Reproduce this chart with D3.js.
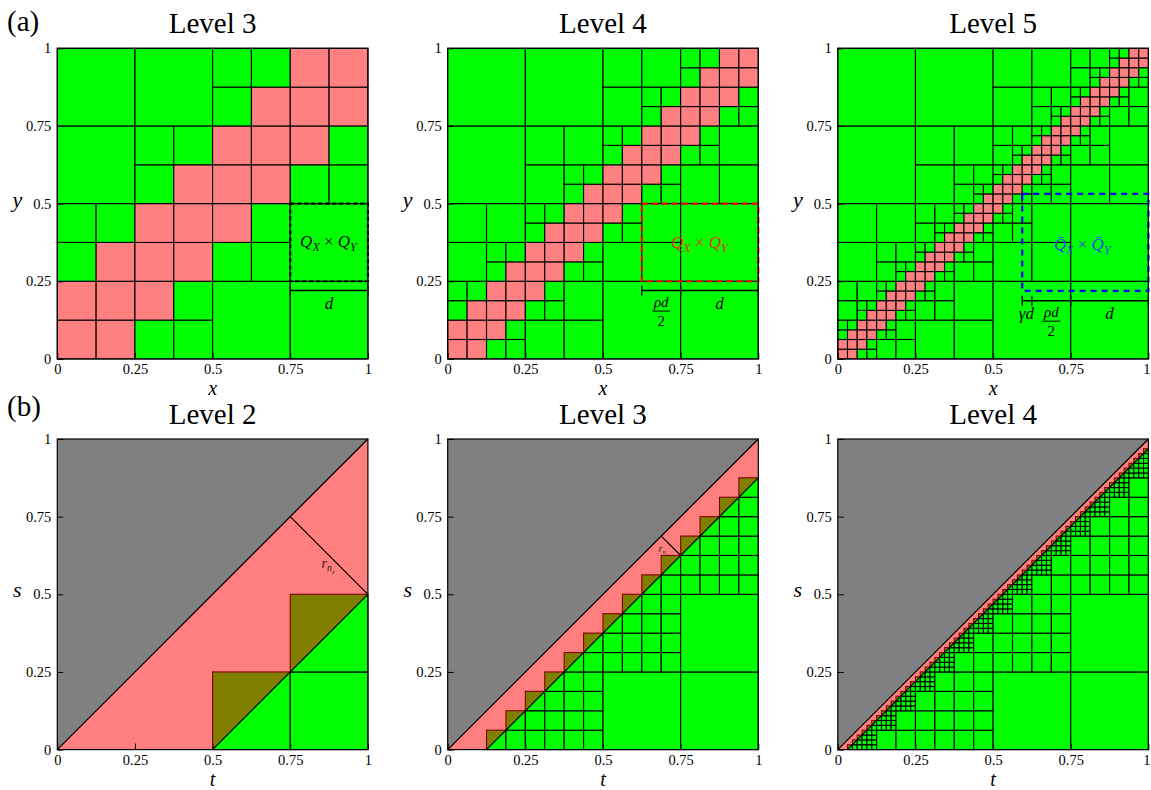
<!DOCTYPE html>
<html>
<head>
<meta charset="utf-8">
<script src="https://cdn.jsdelivr.net/npm/d3@7"></script>
<style>
body { margin: 0; background: #fff; }
svg text { font-family: "Liberation Serif", "DejaVu Serif", "Noto Serif", serif; }
</style>
</head>
<body>
<svg id="fig" width="1151" height="790"></svg>
<script>
// ---- data ----
var topLevels = [3, 4, 5];
var bottomLevels = [2, 3, 4];
var tickValues = [0, 0.25, 0.5, 0.75, 1];
var tickLabels = ['0', '0.25', '0.5', '0.75', '1'];
var minGap = 2; // a cell (i,j) is admissible when |i-j| >= minGap

// dashed box Q_X x Q_Y per top panel: [x0, x1, y0, y1]
var boxes = [[0.75, 1, 0.25, 0.5], [0.625, 1, 0.25, 0.5], [0.59375, 1, 0.21875, 0.53125]];
var boxColors = ['#000000', '#ff0000', '#0000ff'];
var boxLabelColors = ['#111111', '#e0321a', '#2249e0'];
var boxLabelPos = [[0.873, 0.377], [0.81, 0.372], [0.787, 0.367]];
var boxBar = [false, false, true];
var boxDash = ['4,3', '6,4', '6,5'];

// dimension line under the box
var dimY = [0.22, 0.22, 0.1875];
var dimTicks = [[0.75, 1], [0.625, 0.75, 1], [0.59375, 0.625, 0.75, 1]];
var dimLabels = [
  [['d', 0.875]],
  [['frac', 0.6875], ['d', 0.875]],
  [['gd', 0.607], ['frac', 0.6875], ['d', 0.875]]
];

// r_{n_eps} segment on the bottom panels
var rSegments = [[0.75, 0.75, 1, 0.5], [0.6875, 0.6875, 0.75, 0.625], null];
var rLabelPos = [[0.872, 0.594], [0.694, 0.644], null];
var rLabelSize = [14, 10, 0];

// ---- layout ----
var panelX = [57.3, 447.7, 837.8];
var panelY = [48.3, 439];
var S = 310.6;

var svg = d3.select('#fig');

function scales(col, row) {
    var x = d3.scaleLinear().domain([0, 1]).range([panelX[col], panelX[col] + S]);
    var y = d3.scaleLinear().domain([0, 1]).range([panelY[row] + S, panelY[row]]);
    return {x: x, y: y};
}

function quadTop(i, j, lev, maxLev, out) {
    if (Math.abs(i - j) >= minGap) out.push({i: i, j: j, lev: lev, pink: false});
    else if (lev === maxLev) out.push({i: i, j: j, lev: lev, pink: true});
    else {
        for (var a = 0; a < 2; a++)
            for (var b = 0; b < 2; b++)
                quadTop(2 * i + a, 2 * j + b, lev + 1, maxLev, out);
    }
}

function quadBottom(i, j, k, K, out) {
    if (j > i) return;
    if (i - j >= minGap) out.push({i: i, j: j, k: k});
    else if (k < K) {
        for (var a = 0; a < 4; a++)
            for (var b = 0; b < 4; b++)
                quadBottom(4 * i + a, 4 * j + b, k + 1, K, out);
    }
}

function axes(g, sc, col, row, xlab, ylab) {
    var ax = g.append('g')
        .attr('transform', 'translate(0,' + (panelY[row] + S) + ')')
        .call(d3.axisBottom(sc.x).tickValues(tickValues)
            .tickFormat(function (d, i) { return tickLabels[i]; })
            .tickSize(-6).tickPadding(5));
    var ay = g.append('g')
        .attr('transform', 'translate(' + sc.x(0) + ',0)')
        .call(d3.axisLeft(sc.y).tickValues(tickValues)
            .tickFormat(function (d, i) { return tickLabels[i]; })
            .tickSize(-6).tickPadding(6));
    [ax, ay].forEach(function (a) {
        a.attr('font-family', null);
        a.select('.domain').remove();
        a.selectAll('text').attr('font-size', 14.5).attr('fill', '#000');
        a.selectAll('line').attr('stroke', '#000').attr('stroke-width', 1);
    });
    if (col === 2) {
        // keep the last label inside the picture
        ax.selectAll('text').filter(function (d) { return d === 1; }).attr('dx', -2);
    }
    g.append('rect')
        .attr('x', sc.x(0)).attr('y', sc.y(1))
        .attr('width', S).attr('height', S)
        .attr('fill', 'none').attr('stroke', '#000').attr('stroke-width', 1.2);
    g.append('text')
        .attr('x', (sc.x(0) + sc.x(1)) / 2)
        .attr('y', panelY[row] + S + 36)
        .attr('text-anchor', 'middle')
        .attr('font-size', 20).attr('font-style', 'italic')
        .text(xlab);
    g.append('text')
        .attr('x', sc.x(0) - 40)
        .attr('y', sc.y(0.5) + 3)
        .attr('text-anchor', 'middle')
        .attr('font-size', 22).attr('font-style', 'italic')
        .text(ylab);
}

function title(col, row, txt) {
    svg.append('text')
        .attr('x', panelX[col] + S / 2)
        .attr('y', panelY[row] - 15)
        .attr('text-anchor', 'middle')
        .attr('font-size', 29)
        .text(txt);
}

function qLabel(g, sc, p) {
    var t = g.append('text')
        .attr('x', sc.x(boxLabelPos[p][0]))
        .attr('y', sc.y(boxLabelPos[p][1]) + 5)
        .attr('text-anchor', 'middle')
        .attr('font-size', 17)
        .attr('fill', boxLabelColors[p]);
    var q = boxBar[p] ? 'Q\u0304' : 'Q';
    t.append('tspan').attr('font-style', 'italic').text(q);
    t.append('tspan').attr('font-style', 'italic').attr('font-size', 12).attr('dy', 4).text('X');
    t.append('tspan').attr('dy', -4).text(' \u00d7 ');
    t.append('tspan').attr('font-style', 'italic').text(q);
    t.append('tspan').attr('font-style', 'italic').attr('font-size', 12).attr('dy', 4).text('Y');
}

// ---- top row ----
topLevels.forEach(function (L, p) {
    var sc = scales(p, 0);
    var g = svg.append('g');
    var cells = [];
    quadTop(0, 0, 0, L, cells);
    g.selectAll('rect.cell').data(cells).enter().append('rect')
        .attr('class', 'cell')
        .attr('x', function (d) { return sc.x(d.i / Math.pow(2, d.lev)); })
        .attr('y', function (d) { return sc.y((d.j + 1) / Math.pow(2, d.lev)); })
        .attr('width', function (d) { return sc.x(1 / Math.pow(2, d.lev)) - sc.x(0); })
        .attr('height', function (d) { return sc.y(0) - sc.y(1 / Math.pow(2, d.lev)); })
        .attr('fill', function (d) { return d.pink ? '#ff8080' : '#00ff00'; })
        .attr('stroke', '#000').attr('stroke-width', 1.1);

    // dimension line
    var yl = sc.y(dimY[p]);
    var dt = dimTicks[p];
    g.append('line')
        .attr('x1', sc.x(dt[0])).attr('x2', sc.x(dt[dt.length - 1]))
        .attr('y1', yl).attr('y2', yl)
        .attr('stroke', '#000').attr('stroke-width', 1.5);
    g.selectAll('line.dt').data(dt).enter().append('line')
        .attr('class', 'dt')
        .attr('x1', function (d) { return sc.x(d); }).attr('x2', function (d) { return sc.x(d); })
        .attr('y1', yl - 5).attr('y2', yl + 5)
        .attr('stroke', '#000').attr('stroke-width', 1.3);
    dimLabels[p].forEach(function (lb) {
        var cx = sc.x(lb[1]);
        if (lb[0] === 'd') {
            g.append('text').attr('x', cx).attr('y', yl + 18).attr('text-anchor', 'middle')
                .attr('font-size', 17).attr('font-style', 'italic').text('d');
        } else if (lb[0] === 'gd') {
            g.append('text').attr('x', cx).attr('y', yl + 18).attr('text-anchor', 'middle')
                .attr('font-size', 17).attr('font-style', 'italic').text('\u03b3d');
        } else {
            g.append('text').attr('x', cx).attr('y', yl + 16).attr('text-anchor', 'middle')
                .attr('font-size', 15).attr('font-style', 'italic').text('\u03c1d');
            g.append('line').attr('x1', cx - 9).attr('x2', cx + 9)
                .attr('y1', yl + 20.5).attr('y2', yl + 20.5)
                .attr('stroke', '#000').attr('stroke-width', 1);
            g.append('text').attr('x', cx).attr('y', yl + 35).attr('text-anchor', 'middle')
                .attr('font-size', 15).text('2');
        }
    });

    // dashed box
    var b = boxes[p];
    g.append('rect')
        .attr('x', sc.x(b[0])).attr('y', sc.y(b[3]))
        .attr('width', sc.x(b[1]) - sc.x(b[0]))
        .attr('height', sc.y(b[2]) - sc.y(b[3]))
        .attr('fill', 'none').attr('stroke', boxColors[p])
        .attr('stroke-width', 2.2).attr('stroke-dasharray', boxDash[p]);
    qLabel(g, sc, p);

    axes(g, sc, p, 0, 'x', 'y');
    title(p, 0, 'Level ' + L);
});

// ---- bottom row ----
bottomLevels.forEach(function (L, p) {
    var sc = scales(p, 1);
    var g = svg.append('g');
    var K = L - 1;
    var h = Math.pow(4, -K);
    var cells = [];
    quadBottom(0, 0, 0, K, cells);
    g.selectAll('rect.cell').data(cells).enter().append('rect')
        .attr('class', 'cell')
        .attr('x', function (d) { return sc.x(d.i / Math.pow(4, d.k)); })
        .attr('y', function (d) { return sc.y((d.j + 1) / Math.pow(4, d.k)); })
        .attr('width', function (d) { return sc.x(Math.pow(4, -d.k)) - sc.x(0); })
        .attr('height', function (d) { return sc.y(0) - sc.y(Math.pow(4, -d.k)); })
        .attr('fill', '#00ff00')
        .attr('stroke', '#000').attr('stroke-width', 1.1);

    var line = d3.line().x(function (d) { return sc.x(d[0]); }).y(function (d) { return sc.y(d[1]); });
    // near-diagonal strip
    g.append('path')
        .attr('d', line([[0, 0], [1, 1], [1, 1 - 2 * h], [2 * h, 0]]) + 'Z')
        .attr('fill', '#ff0000').attr('fill-opacity', 0.5);
    // region s > t
    g.append('path')
        .attr('d', line([[0, 0], [0, 1], [1, 1]]) + 'Z')
        .attr('fill', '#808080');
    g.append('path').attr('d', line([[0, 0], [1, 1]]))
        .attr('stroke', '#000').attr('stroke-width', 1.3).attr('fill', 'none');
    g.append('path').attr('d', line([[2 * h, 0], [1, 1 - 2 * h]]))
        .attr('stroke', '#000').attr('stroke-width', 1.2).attr('fill', 'none');

    if (rSegments[p]) {
        var r = rSegments[p];
        g.append('path').attr('d', line([[r[0], r[1]], [r[2], r[3]]]))
            .attr('stroke', '#000').attr('stroke-width', 1.2).attr('fill', 'none');
        var fs = rLabelSize[p];
        var t = g.append('text')
            .attr('x', sc.x(rLabelPos[p][0]))
            .attr('y', sc.y(rLabelPos[p][1]) + fs * 0.2)
            .attr('text-anchor', 'middle')
            .attr('font-size', fs).attr('fill', '#222');
        t.append('tspan').attr('font-style', 'italic').text('r');
        t.append('tspan').attr('font-style', 'italic').attr('font-size', fs * 0.7).attr('dy', fs * 0.25).text('n');
        t.append('tspan').attr('font-style', 'italic').attr('font-size', fs * 0.5).attr('dy', fs * 0.15).text('\u03b5');
    }

    axes(g, sc, p, 1, 't', 's');
    title(p, 1, 'Level ' + L);
});

// panel letters
svg.append('text').attr('x', 7).attr('y', 31).attr('font-size', 29).text('(a)');
svg.append('text').attr('x', 7).attr('y', 416).attr('font-size', 29).text('(b)');
</script>
</body>
</html>
